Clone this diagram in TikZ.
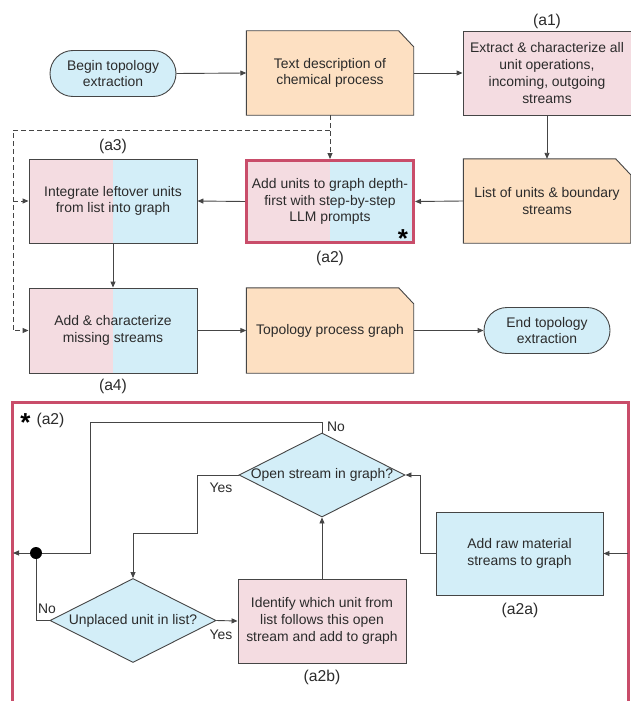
\documentclass[tikz,border=0pt]{standalone}
\usepackage{fontspec}
\setmainfont{Liberation Sans}
\usetikzlibrary{arrows.meta,shapes.geometric,shapes.misc}
\definecolor{apink}{HTML}{F4DCE1}
\definecolor{ablue}{HTML}{D3EEF8}
\definecolor{aorange}{HTML}{FDE0C2}
\definecolor{ared}{HTML}{C94D6A}
\definecolor{aline}{HTML}{454545}
\definecolor{atext}{HTML}{2B2B2B}
\pgfdeclarelayer{bg}
\pgfsetlayers{bg,main}
\begin{document}
\begin{tikzpicture}[x=1pt,y=-1pt,
  every node/.style={font=\fontsize{13.9}{16.7}\selectfont, text=atext, align=center},
  base/.style={line width=0.9pt, draw=aline},
  term/.style={rounded rectangle, base, fill=ablue, minimum width=126pt, minimum height=46pt, inner sep=0pt},
  doc/.style={rectangle, minimum width=167pt, minimum height=84pt, inner sep=0pt},
  box/.style={rectangle, base, minimum width=168pt, minimum height=84pt, inner sep=0pt},
  halfbox/.style={box, path picture={
     \fill[apink] (path picture bounding box.south west) rectangle (path picture bounding box.north);
     \fill[ablue] (path picture bounding box.south) rectangle (path picture bounding box.north east);}},
  dia/.style={diamond, base, fill=ablue, minimum width=166pt, minimum height=84pt, inner sep=0pt},
  tipstyle/.style={-{Triangle[length=6pt,width=5pt]}},
  conn/.style={line width=0.9pt, draw=aline},
  arr/.style={conn, tipstyle},
  dsh/.style={conn, dash pattern=on 5pt off 3pt},
  lbl/.style={inner sep=0pt},
  tag/.style={inner sep=0pt, font=\fontsize{15.7}{18}\selectfont},
  starmark/.style={inner sep=0pt, anchor=north, text=black, font=\fontsize{26}{26}\selectfont\bfseries},
]
\useasboundingbox (0,0) rectangle (630,701);

% ---------- top part ----------
\node[term] (beg) at (113,73.5) {Begin topology\\extraction};
\node[doc] (txt) at (330,73) {Text description of\\chemical process};
\node[box, fill=apink] (ext) at (547,73) {Extract \& characterize all\\unit operations,\\incoming, outgoing\\streams};
\node[tag] (la1) at (547,21) {(a1)};
\node[doc] (lst) at (547,201) {List of units \& boundary\\streams};
\node[halfbox, draw=ared, line width=3pt, minimum width=167pt, minimum height=82pt] (a2) at (330,201.5) {Add units to graph depth-\\first with step-by-step\\LLM prompts};
\node[starmark] (star1) at (403,229.5) {*};
\node[tag] (la2) at (330,258) {(a2)};
\node[halfbox] (a3) at (113,201) {Integrate leftover units\\from list into graph};
\node[tag] (la3) at (113,146) {(a3)};
\node[halfbox, minimum height=85pt] (a4) at (113,330.5) {Add \& characterize\\missing streams};
\node[tag] (la4) at (113,386) {(a4)};
\node[doc, minimum height=85pt] (top) at (330,330.5) {Topology process graph};
\node[term] (end) at (547,330.5) {End topology\\extraction};

\begin{pgfonlayer}{bg}
  \foreach \n in {txt,lst,top}{
    \draw[base, fill=aorange] (\n.north west) -- ([xshift=-15pt]\n.north east)
      -- ([yshift=-16pt]\n.north east) -- (\n.south east) -- (\n.south west) -- cycle;
  }
\end{pgfonlayer}

\draw[arr] (beg.east) -- (txt.west);
\draw[arr] (txt.east) -- (ext.west);
\draw[arr] (ext.south) -- (lst.north);
\draw[arr] (lst.west) -- (a2.east);
\draw[arr] (a2.west) -- (a3.east);
\draw[arr] (a3.south) -- (a4.north);
\draw[arr] (a4.east) -- (top.west);
\draw[arr] (top.east) -- (end.west);

\coordinate (dj) at (330,130);
\coordinate (dl) at (13,130);
\draw[dsh, tipstyle] (txt.south) -- (a2.north);
\draw[dsh, tipstyle] (dj) -- (dl) |- (a4.west);
\draw[dsh, tipstyle] (dl |- a3.west) -- (a3.west);

% ---------- bottom panel ----------
\draw[ared, line width=3pt] (12,402) rectangle (628,720);
\node[starmark] (star2) at (25.5,413) {*};
\node[tag] (la2t) at (50.5,420) {(a2)};

\node[dia, label={center:Open stream in graph?}] (d1) at (322,475) {};
\node[dia, label={center:Unplaced unit in list?}] (d2) at (133,620.5) {};
\node[box, fill=apink] (a2b) at (322,621) {Identify which unit from\\list follows this open\\stream and add to graph};
\node[tag] (la2b) at (322,677) {(a2b)};
\node[box, fill=ablue, minimum width=167pt, minimum height=83pt] (a2a) at (519.5,553.5) {Add raw material\\streams to graph};
\node[tag] (la2a) at (520,610) {(a2a)};
\node[circle, fill=black, inner sep=0pt, minimum size=12pt] (dot) at (36,553) {};

\coordinate (tl) at (90,422);
\coordinate (fl) at (13,553);
\coordinate (fr) at (628,553.5);
\coordinate (ys) at (197,533);
\coordinate (ra) at (420,553.5);

\draw[conn] (d1.north) -- (d1.north |- tl) -- (tl) |- (dot);
\draw[arr] (dot) -- (fl);
\draw[arr] (d1.west) -| (ys) -| (d2.north);
\draw[conn] (d2.west) -| (dot);
\draw[arr] (d2.east) -- (a2b.west);
\draw[arr] (a2b.north) -- (d1.south);
\draw[arr] (fr) -- (a2a.east);
\draw[arr] (a2a.west) -- (ra) |- (d1.east);

\node[lbl] (no1) at (336,427) {No};
\node[lbl] (yes1) at (221,488) {Yes};
\node[lbl] (no2) at (47,609) {No};
\node[lbl] (yes2) at (221,635) {Yes};
\end{tikzpicture}
\end{document}
